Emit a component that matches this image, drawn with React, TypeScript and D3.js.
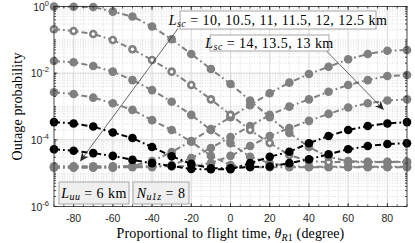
import React from 'react';
import * as d3 from 'd3';

// flight angle theta_R1 (degree)
const angles = [-90, -80, -70, -60, -50, -40, -30, -20, -10, 0, 10, 20, 30, 40, 50, 60, 70, 80, 90];

// outage probability, L_sc curves
const lsc10 = [0.99, 0.98, 0.97, 0.7, 0.5, 0.25, 0.104, 0.0376, 0.0133, 0.00473, 0.00151, 4.8e-4, 1.6e-4, 6.1e-5, 3.05e-5, 2.3e-5, 2.2e-5, 2.2e-5, 2.2e-5];
const lsc10_5 = [0.207, 0.184, 0.15, 0.099, 0.052, 0.0248, 0.0111, 0.0044, 0.00164, 5.6e-4, 1.97e-4, 8.0e-5, 3.5e-5, 2.3e-5, 2.15e-5, 2.15e-5, 2.15e-5, 2.15e-5, 2.15e-5];
const lsc11 = [0.0232, 0.0212, 0.0164, 0.0111, 0.0062, 0.0031, 0.00139, 5.6e-4, 1.97e-4, 7.9e-5, 3.1e-5, 2.0e-5, 1.6e-5, 1.55e-5, 1.55e-5, 1.55e-5, 1.55e-5, 1.55e-5, 1.55e-5];
const lsc11_5 = [0.00267, 0.00237, 0.00184, 0.00125, 7.9e-4, 3.9e-4, 1.97e-4, 8.8e-5, 3.3e-5, 1.76e-5, 1.5e-5, 1.5e-5, 1.5e-5, 1.5e-5, 1.5e-5, 1.5e-5, 1.5e-5, 1.5e-5, 1.5e-5];
const lsc12 = [3.4e-4, 3.1e-4, 2.5e-4, 1.66e-4, 1.13e-4, 6.1e-5, 3.2e-5, 1.9e-5, 1.4e-5, 1.4e-5, 1.53e-5, 1.58e-5, 2.0e-5, 2.6e-5, 3.7e-5, 5.2e-5, 6.5e-5, 7.5e-5, 7.9e-5];
const lsc12_5 = [5.2e-5, 4.7e-5, 4.0e-5, 3.3e-5, 2.5e-5, 2.0e-5, 1.64e-5, 1.33e-5, 1.31e-5, 1.31e-5, 2.0e-5, 3.1e-5, 4.4e-5, 7.9e-5, 1.3e-4, 1.97e-4, 2.6e-4, 3.1e-4, 3.4e-4];
const lsc13 = [1.6e-5, 1.6e-5, 1.6e-5, 1.6e-5, 1.6e-5, 1.6e-5, 1.6e-5, 1.6e-5, 2.0e-5, 3.3e-5, 6.5e-5, 1.3e-4, 2.26e-4, 3.7e-4, 6.0e-4, 9.3e-4, 1.25e-3, 1.51e-3, 1.64e-3];
const lsc13_5 = [1.5e-5, 1.5e-5, 1.5e-5, 1.5e-5, 1.5e-5, 1.5e-5, 1.76e-5, 2.85e-5, 5.7e-5, 1.22e-4, 2.6e-4, 5.6e-4, 9.9e-4, 1.64e-3, 2.78e-3, 4.4e-3, 6.2e-3, 8.2e-3, 8.8e-3];
const lsc14 = [1.45e-5, 1.45e-5, 1.45e-5, 1.45e-5, 1.64e-5, 2.3e-5, 4.3e-5, 9.2e-5, 2.1e-4, 4.8e-4, 1.1e-3, 2.5e-3, 5.2e-3, 9.4e-3, 0.0156, 0.026, 0.0376, 0.047, 0.0495];

const xTickValues = [-80, -60, -40, -20, 0, 20, 40, 60, 80];
const yTickExps = [0, -2, -4, -6];

const GRAY = '#808080';
const INK = '#262626';

const series = [
  { name: 'Lsc=14', values: lsc14, color: GRAY, open: false },
  { name: 'Lsc=13.5', values: lsc13_5, color: GRAY, open: false },
  { name: 'Lsc=13', values: lsc13, color: GRAY, open: false },
  { name: 'Lsc=11.5', values: lsc11_5, color: GRAY, open: false },
  { name: 'Lsc=11', values: lsc11, color: GRAY, open: false },
  { name: 'Lsc=10.5', values: lsc10_5, color: GRAY, open: true },
  { name: 'Lsc=10', values: lsc10, color: GRAY, open: false },
  { name: 'Lsc=12.5', values: lsc12_5, color: '#000000', open: false },
  { name: 'Lsc=12', values: lsc12, color: '#000000', open: false },
];

const W = 415;
const H = 243;
const plot = { left: 54, right: 407, top: 6.5, bottom: 206.5 };

const x = d3.scaleLinear().domain([-90, 90]).range([plot.left, plot.right]);
const y = d3.scaleLog().domain([1e-6, 1]).range([plot.bottom, plot.top]);

const serif = '"Liberation Serif", "DejaVu Serif", serif';
const sans = '"Liberation Sans", Arial, Helvetica, sans-serif';

const line = d3
  .line<number>()
  .x((_, i) => x(angles[i]))
  .y((d) => y(d));

function Arrow({ x1, y1, x2, y2 }: { x1: number; y1: number; x2: number; y2: number }) {
  const a = Math.atan2(y2 - y1, x2 - x1);
  const len = 9;
  const half = 4;
  const back = 6.5;
  const ux = Math.cos(a);
  const uy = Math.sin(a);
  const bx = x2 - ux * len;
  const by = y2 - uy * len;
  const p1 = [bx - uy * half, by + ux * half];
  const p2 = [bx + uy * half, by - ux * half];
  const notch = [x2 - ux * back, y2 - uy * back];
  return (
    <g>
      <line x1={x1} y1={y1} x2={notch[0]} y2={notch[1]} stroke={INK} strokeWidth={0.7} />
      <polygon
        points={`${x2},${y2} ${p1[0]},${p1[1]} ${notch[0]},${notch[1]} ${p2[0]},${p2[1]}`}
        fill={INK}
      />
    </g>
  );
}

function Label({
  bx, by, bw, bh, fill, children,
}: { bx: number; by: number; bw: number; bh: number; fill: string; children: React.ReactNode }) {
  return (
    <g>
      <rect x={bx} y={by} width={bw} height={bh} fill={fill} stroke="#a6a6a6" strokeWidth={1} />
      <text
        x={bx + bw / 2}
        y={by + bh / 2 + 4.5}
        textAnchor="middle"
        fontFamily={serif}
        fontSize={14}
        letterSpacing={0.45}
        fill="#000"
      >
        {children}
      </text>
    </g>
  );
}

export default function App() {
  const xMinor = x.ticks(36);
  const yMinor = y.ticks();
  const yMajor = yTickExps.map((e) => Math.pow(10, e));

  return (
    <svg
      width={W}
      height={H}
      viewBox={`0 0 ${W} ${H}`}
      style={{ position: 'absolute', left: 0, top: 0, background: '#fff' }}
    >
      <rect x={0} y={0} width={W} height={H} fill="#fff" />
      {/* minor grid */}
      <g stroke="#c4c4c4" strokeWidth={0.6} strokeDasharray="1,1.6">
        {xMinor.map((t) => (
          <line key={'xm' + t} x1={x(t)} x2={x(t)} y1={plot.top} y2={plot.bottom} />
        ))}
        {yMinor.map((t, i) => (
          <line key={'ym' + i} x1={plot.left} x2={plot.right} y1={y(t)} y2={y(t)} />
        ))}
      </g>
      {/* major grid */}
      <g stroke="#dcdcdc" strokeWidth={1}>
        {xTickValues.map((t) => (
          <line key={'xg' + t} x1={x(t)} x2={x(t)} y1={plot.top} y2={plot.bottom} />
        ))}
        {yMajor.map((t, i) => (
          <line key={'yg' + i} x1={plot.left} x2={plot.right} y1={y(t)} y2={y(t)} />
        ))}
      </g>

      {/* curves */}
      {series.map((s) => (
        <path
          key={'l' + s.name}
          d={line(s.values) || ''}
          fill="none"
          stroke={s.color}
          strokeWidth={2}
          strokeDasharray="6,3,1.8,3"
        />
      ))}
      {series.map((s) => (
        <g key={'m' + s.name}>
          {s.values.map((v, i) => (
            <g key={i}>
              <circle cx={x(angles[i])} cy={y(v)} r={4.3} fill={s.color} />
              {s.open && <circle cx={x(angles[i])} cy={y(v)} r={1.7} fill="#fff" />}
            </g>
          ))}
        </g>
      ))}

      {/* axes box and ticks */}
      <g stroke={INK} strokeWidth={0.8} fill="none">
        <rect x={plot.left} y={plot.top} width={plot.right - plot.left} height={plot.bottom - plot.top} />
        {xMinor.map((t) => (
          <g key={'xt' + t}>
            <line x1={x(t)} x2={x(t)} y1={plot.bottom} y2={plot.bottom - 2} />
            <line x1={x(t)} x2={x(t)} y1={plot.top} y2={plot.top + 2} />
          </g>
        ))}
        {xTickValues.map((t) => (
          <g key={'xT' + t}>
            <line x1={x(t)} x2={x(t)} y1={plot.bottom} y2={plot.bottom - 3.5} />
            <line x1={x(t)} x2={x(t)} y1={plot.top} y2={plot.top + 3.5} />
          </g>
        ))}
        {yMinor.map((t, i) => (
          <g key={'yt' + i}>
            <line x1={plot.left} x2={plot.left + 2} y1={y(t)} y2={y(t)} />
            <line x1={plot.right} x2={plot.right - 2} y1={y(t)} y2={y(t)} />
          </g>
        ))}
        {yMajor.map((t, i) => (
          <g key={'yT' + i}>
            <line x1={plot.left} x2={plot.left + 3.5} y1={y(t)} y2={y(t)} />
            <line x1={plot.right} x2={plot.right - 3.5} y1={y(t)} y2={y(t)} />
          </g>
        ))}
      </g>

      {/* tick labels */}
      <g fontFamily={sans} fontSize={10.5} fill={INK}>
        {xTickValues.map((t) => (
          <text key={'xl' + t} x={x(t)} y={222} textAnchor="middle">
            {String(t)}
          </text>
        ))}
        {yTickExps.map((e) => (
          <text key={'yl' + e} x={49} y={y(Math.pow(10, e)) + 4} textAnchor="end">
            10
            <tspan dy={-5} fontSize={7.5}>
              {String(e)}
            </tspan>
          </text>
        ))}
      </g>

      {/* axis labels */}
      <text
        transform={`translate(22,${(plot.top + plot.bottom) / 2}) rotate(-90)`}
        textAnchor="middle"
        fontFamily={serif}
        fontSize={14}
        letterSpacing={0.15}
        fill="#000"
      >
        Outage probability
      </text>
      <text
        x={(plot.left + plot.right) / 2}
        y={238}
        textAnchor="middle"
        fontFamily={serif}
        fontSize={14}
        letterSpacing={0.15}
        fill="#000"
      >
        Proportional to flight time, <tspan fontStyle="italic">θ</tspan>
        <tspan fontStyle="italic" fontSize={10} dy={2.5}>R</tspan>
        <tspan fontSize={10}>1</tspan>
        <tspan dy={-2.5}> (degree)</tspan>
      </text>

      {/* annotations */}
      <Arrow x1={178} y1={28.5} x2={80} y2={161.5} />
      <Arrow x1={326} y1={50.5} x2={384} y2={110} />

      <Label bx={180} by={11} bw={196} bh={18} fill="#fff">
        <tspan fontStyle="italic">L</tspan>
        <tspan fontStyle="italic" fontSize={10} dy={2.5}>sc</tspan>
        <tspan dy={-2.5}> = 10, 10.5, 11, 11.5, 12, 12.5 km</tspan>
      </Label>
      <Label bx={210} by={35} bw={119} bh={16} fill="#fff">
        <tspan fontStyle="italic">L</tspan>
        <tspan fontStyle="italic" fontSize={10} dy={2.5}>sc</tspan>
        <tspan dy={-2.5}> = 14, 13.5, 13 km</tspan>
      </Label>
      <Label bx={59} by={182} bw={70} bh={22} fill="#efefef">
        <tspan fontStyle="italic">L</tspan>
        <tspan fontStyle="italic" fontSize={10} dy={2.5}>uu</tspan>
        <tspan dy={-2.5}> = 6 km</tspan>
      </Label>
      <Label bx={133} by={182} bw={56} bh={22} fill="#efefef">
        <tspan fontStyle="italic">N</tspan>
        <tspan fontStyle="italic" fontSize={10} dy={2.5}>u1z</tspan>
        <tspan dy={-2.5}> = 8</tspan>
      </Label>
    </svg>
  );
}
